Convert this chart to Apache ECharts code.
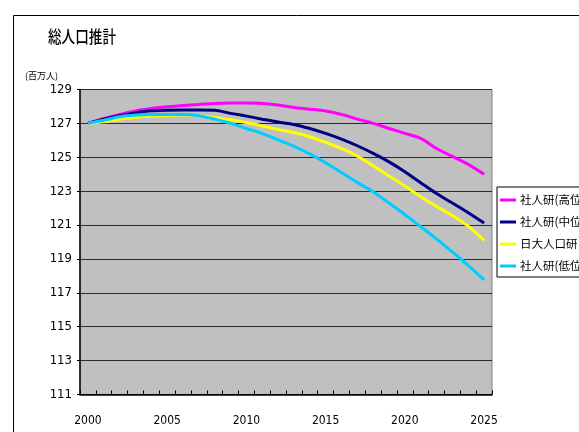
<!DOCTYPE html>
<html>
<head>
<meta charset="utf-8">
<script src="https://cdn.jsdelivr.net/npm/echarts@6/dist/echarts.min.js"></script>
<style>
  html, body { margin: 0; padding: 0; background: #fff; }
  #chart { width: 579px; height: 432px; }
</style>
</head>
<body>
<div id="chart"></div>
<script>
// years on the category axis
const years = [];
for (let y = 2000; y <= 2025; y++) years.push(String(y));

// 総人口 (百万人)
const highVals = [127.0, 127.29, 127.53, 127.74, 127.88, 127.98, 128.06, 128.12, 128.18, 128.2, 128.2, 128.18, 128.08,
  127.94, 127.84, 127.73, 127.53, 127.25, 127.0, 126.7, 126.41, 126.11, 125.52, 125.05, 124.58, 124.0];
const midVals = [127.0, 127.25, 127.45, 127.62, 127.74, 127.78, 127.79, 127.79, 127.78, 127.59, 127.43, 127.25, 127.08,
  126.94, 126.7, 126.41, 126.07, 125.68, 125.23, 124.73, 124.15, 123.5, 122.86, 122.3, 121.73, 121.12];
const nichidaiVals = [127.0, 127.09, 127.25, 127.35, 127.43, 127.47, 127.49, 127.45, 127.35, 127.21, 127.05, 126.85, 126.64,
  126.46, 126.21, 125.88, 125.52, 125.07, 124.5, 123.9, 123.3, 122.67, 122.1, 121.56, 120.93, 120.1];
const lowVals = [127.0, 127.19, 127.39, 127.49, 127.53, 127.53, 127.53, 127.45, 127.25, 127.0, 126.7, 126.4, 126.03,
  125.65, 125.2, 124.68, 124.1, 123.52, 122.96, 122.3, 121.62, 120.9, 120.18, 119.41, 118.62, 117.76];

const seriesNames = ['社人研(高位', '社人研(中位', '日大人口研', '社人研(低位'];
const seriesColors = ['#ff00ff', '#000080', '#ffff00', '#00ccff'];
const seriesData = [highVals, midVals, nichidaiVals, lowVals];

const numFont = '"Liberation Sans Narrow", "DejaVu Sans Condensed", "Liberation Sans", sans-serif';
const jpFont = '"Noto Sans CJK JP", sans-serif';

let chart = echarts.init(document.getElementById('chart'));

chart.setOption({
  backgroundColor: '#fff',
  animation: false,
  title: {text: '(百万人)', left: 20, top: 66,
    textStyle: {fontFamily: jpFont, fontSize: 9, fontWeight: 'normal', color: '#000'}},
  graphic: [
    // chart frame, runs off the right and bottom edges
    {type: 'rect', left: 11, top: 13, shape: {width: 600, height: 450},
      style: {fill: 'none', stroke: '#000', lineWidth: 1}, z: -1},
    // title, condensed like the original
    {type: 'text', x: 48, y: 28, scaleX: 0.8,
      style: {text: '総人口推計', fontFamily: jpFont, fontSize: 17, fontWeight: 500, fill: '#000'}}
  ],
  legend: {
    orient: 'vertical',
    left: 497,
    top: 187,
    padding: [6, 4, 4, 3],
    itemGap: 8,
    itemWidth: 16,
    itemHeight: 3,
    icon: 'rect',
    backgroundColor: '#fff',
    borderColor: '#000',
    borderWidth: 1,
    textStyle: {fontFamily: jpFont, fontSize: 11.5, color: '#000', lineHeight: 14, padding: [0, 0, 0, -1]},
    data: seriesNames
  },
  grid: {left: 80, right: 87, top: 89.5, bottom: 37.5, show: true,
    backgroundColor: '#c0c0c0', borderColor: '#808080', borderWidth: 1},
  xAxis: {
    type: 'category',
    data: years,
    boundaryGap: true,
    axisLine: {lineStyle: {color: '#000', width: 1.5}},
    axisTick: {show: true, inside: true, length: 4, interval: 0, lineStyle: {color: '#000'}},
    axisLabel: {interval: 4, margin: 20, fontFamily: numFont, fontSize: 12, color: '#000'},
    splitLine: {show: false}
  },
  yAxis: {
    type: 'value',
    min: 111,
    max: 129,
    interval: 2,
    axisLine: {show: true, lineStyle: {color: '#000', width: 1.5}},
    axisTick: {show: true, length: 3, lineStyle: {color: '#000'}},
    axisLabel: {margin: 8, fontFamily: numFont, fontSize: 13, color: '#000'},
    splitLine: {show: true, lineStyle: {color: '#2a2a2a', width: 1}}
  },
  series: seriesNames.map((name, i) => ({
    name: name,
    type: 'line',
    data: seriesData[i],
    smooth: 0.3,
    symbol: 'none',
    color: seriesColors[i],
    lineStyle: {width: 3, color: seriesColors[i]},
    z: 2 + i
  }))
});
</script>
</body>
</html>
